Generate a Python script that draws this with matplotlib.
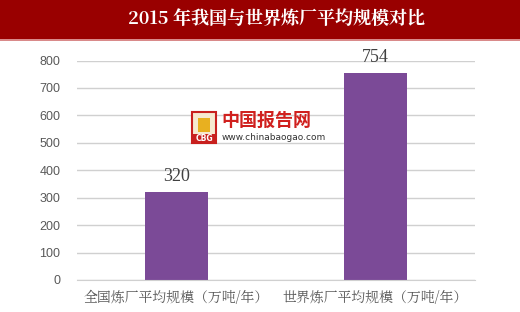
import matplotlib
matplotlib.use("Agg")
import matplotlib.pyplot as plt
from matplotlib.patches import Rectangle

categories = ["全国炼厂平均规模（万吨/年）", "世界炼厂平均规模（万吨/年）"]
values = [320, 754]
yticks = [0, 100, 200, 300, 400, 500, 600, 700, 800]
title = "2015 年我国与世界炼厂平均规模对比"

W, H = 520, 312
fig = plt.figure(figsize=(W / 100, H / 100), dpi=100)
fig.patch.set_facecolor("white")

# title bar
fig.patches.append(Rectangle((0, 1 - 39 / H), 1, 39 / H, transform=fig.transFigure,
                             facecolor="#990000", edgecolor="none", zorder=0))
fig.patches.append(Rectangle((0, 1 - 41 / H), 1, 2 / H, transform=fig.transFigure,
                             facecolor="#D98A8A", edgecolor="none", zorder=0))
fig.text(277 / W, 1 - 19 / H, title, ha="center", va="center", color="white",
         fontsize=13, fontweight="bold",
         family=["Noto Serif CJK SC", "Noto Sans CJK SC", "DejaVu Sans"])

ax = fig.add_axes([77 / W, 1 - 280 / H, (475 - 77) / W, (280 - 60.5) / H])
x = list(range(len(categories)))
ax.bar(x, values, width=0.32, color="#7B4A97", zorder=3)
ax.set_xlim(-0.5, 1.5)
ax.set_ylim(0, 800)
ax.set_yticks(yticks)
ax.set_yticklabels([str(v) for v in yticks], color="#595959", fontsize=9,
                   family=["Liberation Sans", "DejaVu Sans"])
ax.grid(axis="y", color="#D0D0D0", linewidth=1, zorder=0)
ax.tick_params(axis="y", length=0, pad=12)
ax.tick_params(axis="x", length=0, pad=7)
ax.set_xticks(x)
ax.set_xticklabels(categories, fontsize=10, color="#595959",
                   family=["Noto Serif CJK SC", "Noto Sans CJK SC", "DejaVu Sans"])
for s in ["top", "right", "left"]:
    ax.spines[s].set_visible(False)
ax.spines["bottom"].set_color("#D0D0D0")
ax.spines["bottom"].set_zorder(4)

for xi, v in zip(x, values):
    ax.annotate(str(v), (xi, v), xytext=(0, 5), textcoords="offset points",
                ha="center", va="bottom", fontsize=13, color="#404040",
                family=["Liberation Serif", "DejaVu Serif"])

# watermark
fig.patches.append(Rectangle((192 / W, 1 - 143 / H), 24 / W, 31 / H, transform=fig.transFigure,
                             facecolor="#F6E9D0", edgecolor="#C8201E", linewidth=1.5, zorder=5))
fig.patches.append(Rectangle((192 / W, 1 - 143 / H), 24 / W, 9 / H, transform=fig.transFigure,
                             facecolor="#C8201E", edgecolor="none", zorder=5))
fig.patches.append(Rectangle((198 / W, 1 - 132 / H), 12 / W, 14 / H, transform=fig.transFigure,
                             facecolor="#E8B020", edgecolor="none", zorder=5))
fig.text(204 / W, 1 - 138.5 / H, "CBG", ha="center", va="center", color="white",
         fontsize=5.5, fontweight="bold", zorder=6)
fig.text(221 / W, 1 - 120 / H, "中国报告网", ha="left", va="center", color="#D0201E",
         fontsize=13, fontweight="bold", family=["Noto Sans CJK SC", "DejaVu Sans"], zorder=6)
fig.text(222 / W, 1 - 138 / H, "www.chinabaogao.com", ha="left", va="center", color="#333333",
         fontsize=6.5, family=["DejaVu Sans"], zorder=6)

fig.savefig("out.png", dpi=100, facecolor="white")
